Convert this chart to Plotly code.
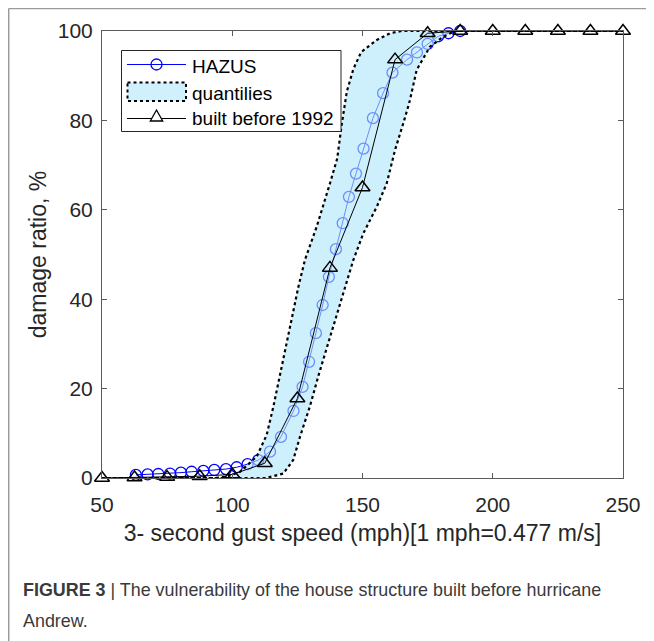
import plotly.graph_objects as go

# HAZUS curve
hazus_speed = [63.0, 67.5, 71.6, 76.1, 80.3, 84.4, 88.9, 93.1, 97.6, 101.7, 105.9, 110.0,
               114.5, 118.7, 123.5, 127.0, 129.5, 132.1, 134.7, 137.1, 139.8, 142.4, 144.8,
               147.5, 150.4, 154.0, 157.9, 161.5, 167.1, 170.9, 175.0, 179.0, 183.0, 187.5]
hazus_ratio = [0.7, 0.8, 0.9, 1.0, 1.2, 1.4, 1.6, 1.8, 2.0, 2.4, 3.1, 4.0,
               5.9, 9.2, 15.0, 20.4, 26.0, 32.4, 38.7, 45.0, 51.2, 57.0, 62.9,
               68.1, 73.7, 80.5, 86.1, 90.7, 93.6, 95.2, 97.1, 98.8, 99.5, 100.0]

# houses built before 1992
built_speed = [50, 62.5, 75, 87.5, 100, 112.5, 125, 137.5, 150, 162.5, 175, 187.5,
               200, 212.5, 225, 237.5, 250]
built_ratio = [0, 0.1, 0.2, 0.4, 0.8, 3.3, 17.8, 47.0, 65.0, 93.6, 99.5, 100,
               100, 100, 100, 100, 100]

# quantile band edges
upper_speed = [50, 93.0, 98.0, 103.0, 109.4, 113.2, 115.8, 119.0, 122.2, 125.4, 127.9,
               132.4, 137.5, 140.3, 142.0, 144.0, 146.5, 149.5, 155.5, 160.6, 165.0, 250]
upper_ratio = [0, 0, 0.3, 1.4, 4.8, 9.6, 16.0, 24.9, 33.8, 42.8, 48.8,
               56.2, 65.9, 71.5, 79.0, 86.5, 91.5, 95.3, 98.0, 99.5, 100, 100]
lower_speed = [50, 113.0, 119.6, 123.4, 126.0, 129.8, 133.0, 137.5, 142.6, 146.5, 150.3,
               155.5, 159.3, 162.5, 166.0, 168.2, 170.8, 175.9, 181.0, 185.5, 250]
lower_ratio = [0, 0, 1.0, 4.0, 9.2, 16.0, 22.7, 31.6, 41.3, 48.8, 54.7,
               60.7, 65.9, 73.4, 80.0, 84.5, 91.3, 96.5, 98.7, 100, 100]

x_ticks = [50, 100, 150, 200, 250]
y_ticks = [0, 20, 40, 60, 80, 100]

legend_labels = ['HAZUS', 'quantilies', 'built before 1992']

FONT = 'Liberation Sans, Arial, sans-serif'
NARROW = 'Liberation Sans Narrow, Liberation Sans, Arial'
BAND = 'rgba(175,230,250,0.62)'

# page pixel -> paper coords (plot area sits at 102..623 x 31..478 on the page)
def px(x):
    return (x - 102) / 521.0


def py(y):
    return (478 - y) / 447.0


fig = go.Figure()

fig.add_trace(go.Scatter(
    x=hazus_speed, y=hazus_ratio, name=legend_labels[0], mode='lines+markers',
    line=dict(color='#0000ff', width=1),
    marker=dict(symbol='circle-open', size=11, color='#0000ff', line=dict(width=1.3)),
    cliponaxis=False
))

# band polygon: upper edge left to right, lower edge back
band_x = upper_speed + lower_speed[::-1]
band_y = upper_ratio + lower_ratio[::-1]
fig.add_trace(go.Scatter(
    x=band_x, y=band_y, name=legend_labels[1], mode='lines', fill='toself',
    fillcolor=BAND,
    line=dict(color='black', width=2.2, dash='dot'),
    cliponaxis=False
))

fig.add_trace(go.Scatter(
    x=built_speed, y=built_ratio, name=legend_labels[2], mode='lines+markers',
    line=dict(color='black', width=1),
    marker=dict(symbol='triangle-up-open', size=13, color='black', line=dict(width=1.5)),
    cliponaxis=False
))

axis_common = dict(
    showline=True, linecolor='#5a5a5a', linewidth=1, mirror='ticks',
    ticks='inside', ticklen=5, tickcolor='#5a5a5a', showgrid=False, zeroline=False,
    tickfont=dict(size=21, color='#262626', family=FONT),
)

fig.update_xaxes(range=[50, 250], tickvals=x_ticks, ticklabelstandoff=8,
                 title=dict(text='3- second gust speed (mph)[1 mph=0.477 m/s]',
                            font=dict(size=23, color='#262626', family=FONT), standoff=9),
                 **axis_common)
fig.update_yaxes(range=[0, 100], tickvals=y_ticks, ticklabelstandoff=4,
                 title=dict(text='damage ratio, %',
                            font=dict(size=23, color='#262626', family=FONT), standoff=4),
                 **axis_common)

shapes = []
# outer frame of the figure panel
shapes.append(dict(type='line', xref='paper', yref='paper', x0=px(8.7), x1=px(8.7),
                   y0=py(8.5), y1=py(660), line=dict(color='#9a9a9a', width=1.5)))
shapes.append(dict(type='line', xref='paper', yref='paper', x0=px(8.7), x1=px(670),
                   y0=py(8.5), y1=py(8.5), line=dict(color='#9a9a9a', width=1.5)))

# hand drawn legend, MATLAB style
shapes.append(dict(type='rect', xref='paper', yref='paper', x0=px(121.5), x1=px(341),
                   y0=py(50.5), y1=py(131.5), fillcolor='white',
                   line=dict(color='#262626', width=1), layer='above'))
shapes.append(dict(type='line', xref='paper', yref='paper', x0=px(127), x1=px(186),
                   y0=py(64.5), y1=py(64.5), line=dict(color='#0000ff', width=1), layer='above'))
shapes.append(dict(type='circle', xref='paper', yref='paper', x0=px(151), x1=px(162),
                   y0=py(59), y1=py(70), fillcolor='rgba(0,0,0,0)',
                   line=dict(color='#0000ff', width=1.3), layer='above'))
shapes.append(dict(type='rect', xref='paper', yref='paper', x0=px(127.5), x1=px(186),
                   y0=py(82.5), y1=py(101), fillcolor='rgb(207,240,252)',
                   line=dict(color='black', width=2, dash='dot'), layer='above'))
shapes.append(dict(type='line', xref='paper', yref='paper', x0=px(127), x1=px(186),
                   y0=py(118.5), y1=py(118.5), line=dict(color='black', width=1), layer='above'))
tri = 'M{:.5f},{:.5f} L{:.5f},{:.5f} L{:.5f},{:.5f} Z'.format(
    px(150.3), py(121), px(162.7), py(121), px(156.5), py(110))
shapes.append(dict(type='path', xref='paper', yref='paper', path=tri,
                   fillcolor='white', line=dict(color='black', width=1.3), layer='above'))

annotations = []
for label, ypix in zip(legend_labels, [66.5, 93, 119]):
    annotations.append(go.layout.Annotation(
        text=label, xref='paper', yref='paper', x=px(189.5), y=py(ypix),
        xanchor='left', yanchor='middle', showarrow=False,
        font=dict(size=19, color='black', family=FONT)))

annotations.append(go.layout.Annotation(
    text='<b>FIGURE 3</b> | The vulnerability of the house structure built before hurricane',
    xref='paper', yref='paper', x=px(21), y=py(590), xanchor='left', yanchor='middle',
    showarrow=False, font=dict(size=17.9, color='#3a3a3a', family=NARROW)))
annotations.append(go.layout.Annotation(
    text='Andrew.',
    xref='paper', yref='paper', x=px(21), y=py(621), xanchor='left', yanchor='middle',
    showarrow=False, font=dict(size=17.9, color='#3a3a3a', family=NARROW)))

# the page body adds an 8 px offset, so the figure is 8 px smaller and shifted
fig.update_layout(
    width=646, height=633,
    margin=dict(l=94, r=31, t=23, b=163),
    paper_bgcolor='white', plot_bgcolor='white',
    font=dict(family=FONT, color='#262626'),
    showlegend=False,
    shapes=shapes,
    annotations=annotations,
)

fig.write_html('out.html')
